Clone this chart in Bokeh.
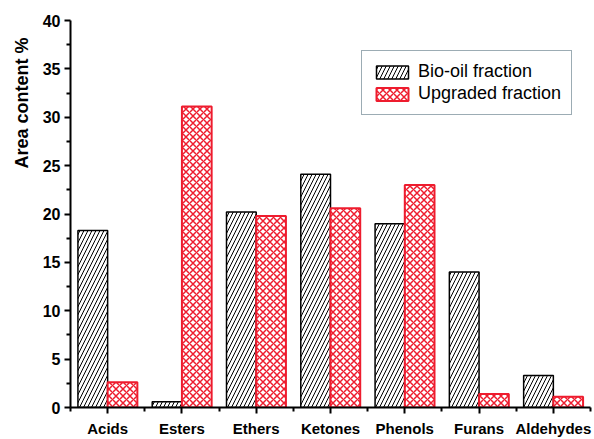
from bokeh.plotting import figure
from bokeh.models import ColumnDataSource, FixedTicker, Range1d, Legend, LegendItem, Title
from bokeh.embed import file_html
from bokeh.resources import INLINE

categories = ["Acids", "Esters", "Ethers", "Ketones", "Phenols", "Furans", "Aldehydes"]
bio_oil = [18.3, 0.6, 20.2, 24.1, 19.0, 14.0, 3.3]
upgraded = [2.6, 31.1, 19.8, 20.6, 23.0, 1.4, 1.1]
y_ticks = [0, 5, 10, 15, 20, 25, 30, 35, 40]

centers = [i + 0.5 for i in range(len(categories))]
bar_w = 0.4
src = ColumnDataSource(dict(
    xb=[c - bar_w / 2 for c in centers],
    xu=[c + bar_w / 2 for c in centers],
    bio=bio_oil, up=upgraded,
))

p = figure(width=594, height=439, output_backend="svg", toolbar_location=None,
           x_range=Range1d(0, len(categories)), y_range=Range1d(0, 40),
           min_border_left=70, min_border_right=4, min_border_top=20, min_border_bottom=8)
p.outline_line_color = None
p.grid.visible = False
p.background_fill_color = "white"

r1 = p.vbar(x="xb", top="bio", width=bar_w, source=src, fill_color="white",
            line_color="black", line_width=1.5, hatch_pattern="/", hatch_color="black",
            hatch_scale=8, hatch_weight=1)
r2 = p.vbar(x="xu", top="up", width=bar_w, source=src, fill_color="white",
            line_color="#ee1c2e", line_width=2, hatch_pattern="x", hatch_color="#ee1c2e",
            hatch_scale=7, hatch_weight=1.5)

# axes
p.xaxis.ticker = FixedTicker(ticks=centers, minor_ticks=list(range(len(categories) + 1)))
p.xaxis.major_label_overrides = {c: n for c, n in zip(centers, categories)}
p.yaxis.ticker = FixedTicker(ticks=y_ticks, minor_ticks=[t + 2.5 for t in y_ticks[:-1]])
for ax in (p.xaxis, p.yaxis):
    ax.axis_line_width = 2
    ax.major_tick_line_width = 2
    ax.minor_tick_line_width = 2
    ax.major_tick_in = 0
    ax.major_tick_out = 6
    ax.minor_tick_in = 0
    ax.minor_tick_out = 4
    ax.major_label_text_font = "Liberation Sans"
    ax.major_label_text_font_style = "bold"
    ax.major_label_text_color = "black"
p.xaxis.major_label_text_font_size = "15px"
p.yaxis.major_label_text_font_size = "16px"
p.xaxis.major_label_standoff = 6
p.yaxis.major_label_standoff = 4

t = Title(text="Area content %", align="right", text_font="Liberation Sans",
          text_font_size="18px", text_font_style="bold", text_color="black",
          offset=17, standoff=15)
p.add_layout(t, "left")

legend = Legend(items=[LegendItem(label="Bio-oil fraction", renderers=[r1]),
                       LegendItem(label="Upgraded fraction", renderers=[r2])],
                location=(291, 292), label_text_font="Liberation Sans",
                label_text_font_size="18px", label_text_color="black",
                glyph_width=40, glyph_height=16,
                label_standoff=6, spacing=1, padding=10, margin=0,
                label_height=17,
                border_line_color="#3a5a6a", border_line_width=1)
p.add_layout(legend)

open("out.html", "w").write(file_html(p, INLINE))
